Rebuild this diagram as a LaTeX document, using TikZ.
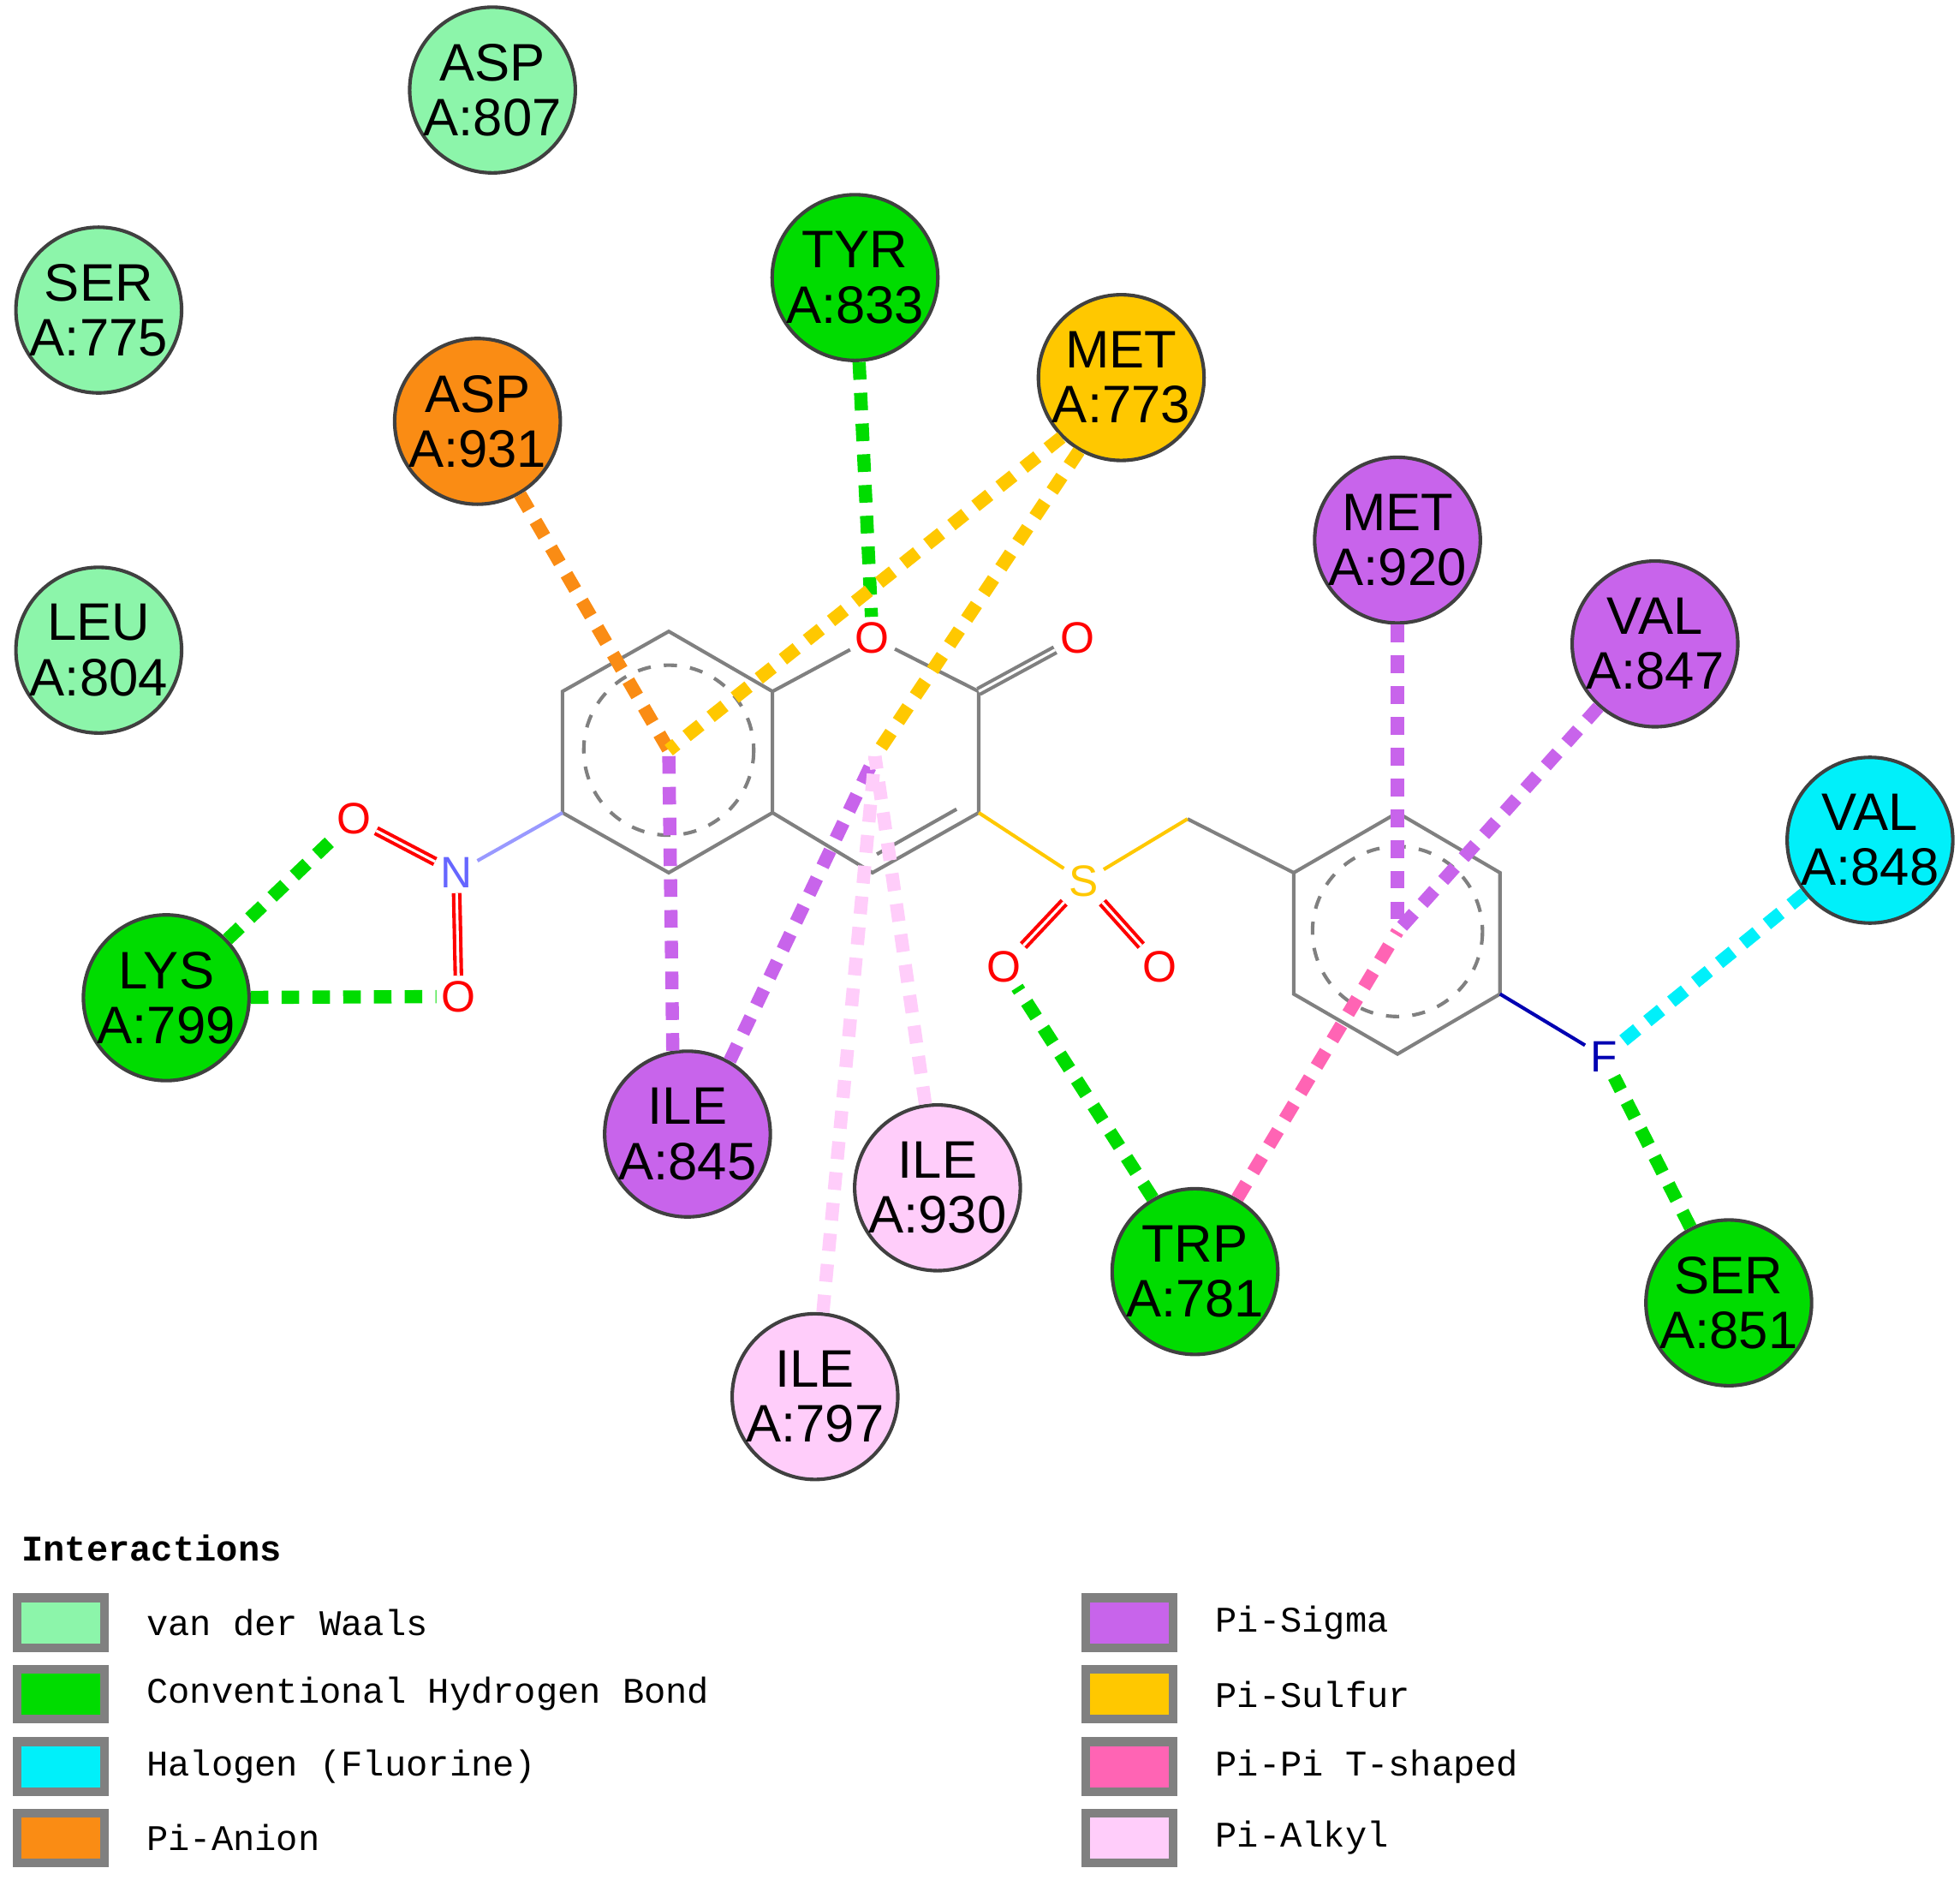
\documentclass[tikz,border=0pt]{standalone}
\usepackage{fontspec}
\usetikzlibrary{calc}
\setmainfont{Liberation Sans}
\newfontfamily\legendfont{Liberation Mono}
\definecolor{vdw}{RGB}{140,245,170}
\definecolor{hbond}{RGB}{0,220,0}
\definecolor{halo}{RGB}{0,240,250}
\definecolor{pianion}{RGB}{250,140,20}
\definecolor{pisigma}{RGB}{200,100,235}
\definecolor{pisulfur}{RGB}{255,200,0}
\definecolor{pipit}{RGB}{255,100,180}
\definecolor{pialkyl}{RGB}{255,205,250}
\tikzset{
  res/.style={circle,draw=black!75,thick,minimum size=1.22cm,inner sep=0pt,
    align=center,font=\fontsize{12}{12.5}\selectfont},
  atom/.style={inner sep=1pt,font=\fontsize{10}{10}\selectfont,fill=white},
  bond/.style={gray,thick},
  inter/.style={line width=3pt,dash pattern=on 4pt off 3pt},
  legbox/.style={draw=gray,line width=2pt,minimum width=0.7cm,minimum height=0.4cm,anchor=west},
  legtext/.style={anchor=west,font=\legendfont\fontsize{8.2}{9}\selectfont}
}
\newcommand{\resnode}[5]{\node[res,fill=#4] (#1) at (#2,#3) {#5};}
\begin{document}
\begin{tikzpicture}[x=0.01cm,y=-0.01cm]
\useasboundingbox (0,0) rectangle (1568,1503);

% ligand
\coordinate (a1) at (535,505); \coordinate (a2) at (618,553);
\coordinate (a3) at (618,650); \coordinate (a4) at (535,698);
\coordinate (a5) at (450,650); \coordinate (a6) at (450,553);
\coordinate (c3) at (783,553); \coordinate (c4) at (783,650);
\coordinate (c5) at (698,698);
\coordinate (ch) at (950,655);
\coordinate (b1) at (1035,698); \coordinate (b2) at (1118,650);
\coordinate (b3) at (1200,698); \coordinate (b4) at (1200,795);
\coordinate (b5) at (1118,843); \coordinate (b6) at (1035,795);
\coordinate (ring1) at (535,600); \coordinate (ring2) at (700,605);
\coordinate (ring3) at (1118,745);

\draw[bond] (a1)--(a2)--(a3)--(a4)--(a5)--(a6)--cycle;
\draw[bond,dashed] (ring1) circle (68);
\draw[bond,dashed] (ring3) circle (68);
\draw[bond] (b1)--(b2)--(b3)--(b4)--(b5)--(b6)--cycle;
\draw[bond] (c3)--(c4)--(c5)--(a3);
\draw[bond] ($(c4)!0.15!(c5)+(-5,-10)$)--($(c5)!0.1!(c4)+(-5,-10)$);
\draw[bond] (ch)--(b1);
\node[atom,text=red] (o1) at (698,510) {O};
\draw[bond] (a2)--(o1); \draw[bond] (o1)--(c3);
\node[atom,text=red] (o2) at (862,510) {O};
\draw[bond,double] (c3)--(o2);
\node[atom,text=blue!60] (n1) at (365,698) {N};
\node[atom,text=red] (o3) at (283,655) {O};
\node[atom,text=red] (o4) at (367,797) {O};
\draw[bond,blue!40] (a5)--(n1);
\draw[red,thick,double] (n1)--(o3); \draw[red,thick,double] (n1)--(o4);
\node[atom,text=pisulfur] (s1) at (867,705) {S};
\node[atom,text=red] (o5) at (803,773) {O};
\node[atom,text=red] (o6) at (928,773) {O};
\draw[bond,pisulfur] (c4)--(s1); \draw[bond,pisulfur] (s1)--(ch);
\draw[red,thick,double] (s1)--(o5); \draw[red,thick,double] (s1)--(o6);
\node[atom,text=blue!70!black] (f1) at (1283,845) {F};
\draw[blue!70!black,thick] (b4)--(f1);

% residues
\resnode{asp807}{394}{72}{vdw}{ASP\\A:807}
\resnode{ser775}{79}{248}{vdw}{SER\\A:775}
\resnode{leu804}{79}{520}{vdw}{LEU\\A:804}
\resnode{tyr833}{684}{222}{hbond}{TYR\\A:833}
\resnode{asp931}{382}{337}{pianion}{ASP\\A:931}
\resnode{met773}{897}{302}{pisulfur}{MET\\A:773}
\resnode{met920}{1118}{432}{pisigma}{MET\\A:920}
\resnode{val847}{1324}{515}{pisigma}{VAL\\A:847}
\resnode{val848}{1496}{672}{halo}{VAL\\A:848}
\resnode{lys799}{133}{798}{hbond}{LYS\\A:799}
\resnode{ile845}{550}{907}{pisigma}{ILE\\A:845}
\resnode{ile930}{750}{950}{pialkyl}{ILE\\A:930}
\resnode{trp781}{956}{1017}{hbond}{TRP\\A:781}
\resnode{ser851}{1383}{1042}{hbond}{SER\\A:851}
\resnode{ile797}{652}{1117}{pialkyl}{ILE\\A:797}

% interactions
\draw[inter,hbond] (tyr833)--(o1);
\draw[inter,pianion] (asp931)--(ring1);
\draw[inter,pisulfur] (met773.225)--(ring1);
\draw[inter,pisulfur] (met773.240)--(ring2);
\draw[inter,pisigma] (ile845.100)--(ring1);
\draw[inter,pisigma] (ile845.60)--(ring2);
\draw[inter,pialkyl] (ile930)--(ring2);
\draw[inter,pialkyl] (ile797)--(ring2);
\draw[inter,pisigma] (met920)--(ring3);
\draw[inter,pisigma] (val847)--(ring3);
\draw[inter,pipit] (trp781.60)--(ring3);
\draw[inter,hbond] (trp781.120)--(o5);
\draw[inter,hbond] (ser851)--(f1);
\draw[inter,halo] (val848)--(f1);
\draw[inter,hbond] (lys799)--(o3);
\draw[inter,hbond] (lys799)--(o4);

% legend
\node[legtext,font=\legendfont\bfseries\fontsize{8.2}{9}\selectfont] (legtitle) at (5,1238) {Interactions};
\foreach \y/\c/\t in {1298/vdw/van der Waals,1355/hbond/Conventional Hydrogen Bond,
  1413/halo/Halogen (Fluorine),1470/pianion/Pi-Anion}{
  \node[legbox,fill=\c] at (10,\y) {};
  \node[legtext] at (105,\y) {\t};
}
\foreach \y/\c/\t in {1298/pisigma/Pi-Sigma,1355/pisulfur/Pi-Sulfur,
  1413/pipit/Pi-Pi T-shaped,1470/pialkyl/Pi-Alkyl}{
  \node[legbox,fill=\c] at (865,\y) {};
  \node[legtext] at (960,\y) {\t};
}
\end{tikzpicture}
\end{document}
